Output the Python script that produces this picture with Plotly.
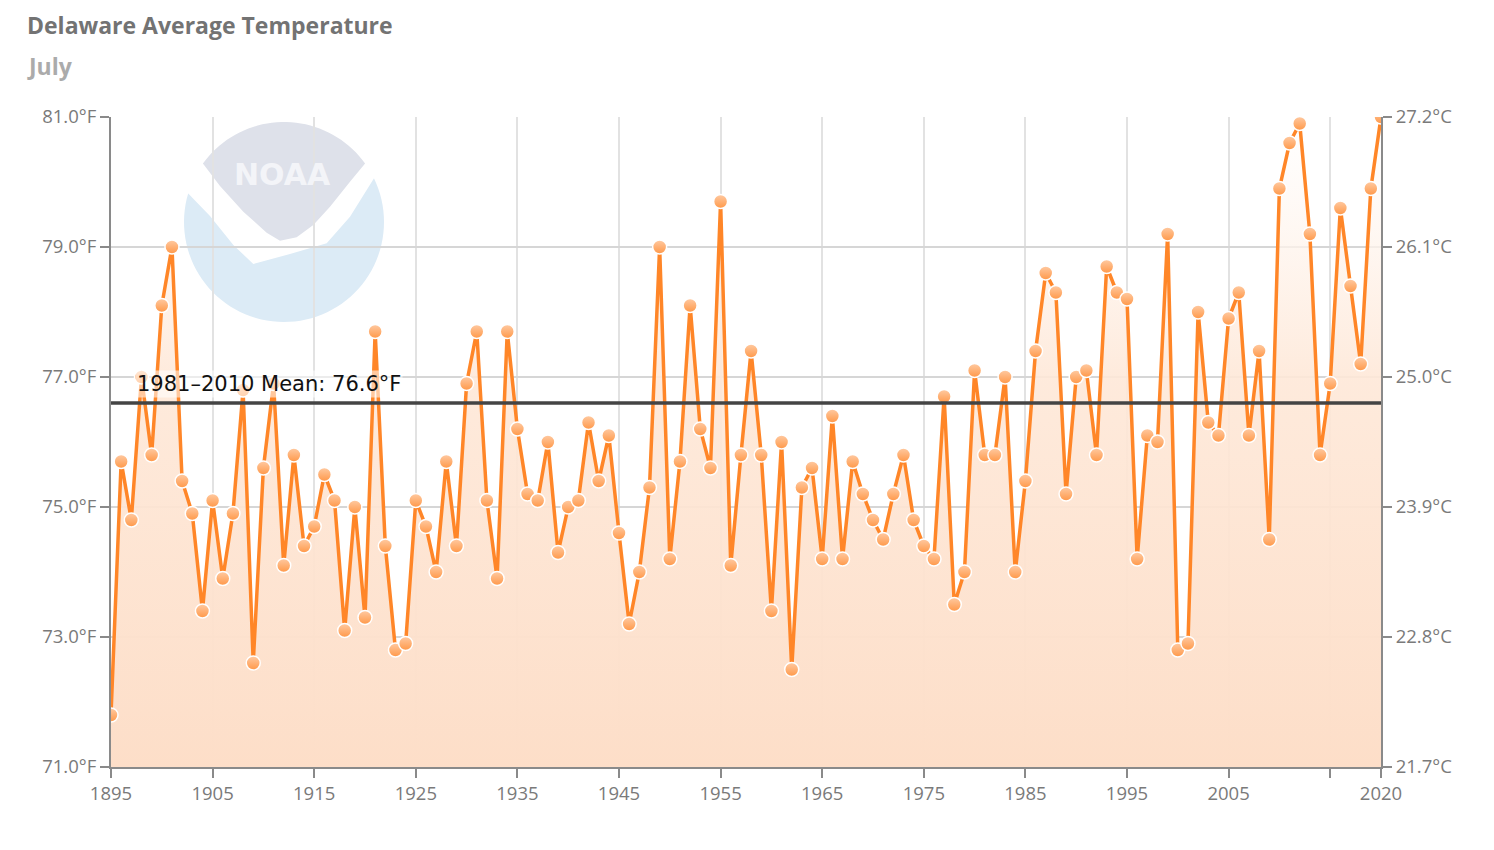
import numpy as np
import plotly.graph_objects as go

# July average temperature, Delaware (deg F), 1895-2020
years = list(range(1895, 2021))
temps_f = [
    71.8, 75.7, 74.8, 77.0, 75.8, 78.1, 79.0, 75.4, 74.9, 73.4,  # 1895-1904
    75.1, 73.9, 74.9, 76.8, 72.6, 75.6, 76.9, 74.1, 75.8, 74.4,  # 1905-1914
    74.7, 75.5, 75.1, 73.1, 75.0, 73.3, 77.7, 74.4, 72.8, 72.9,  # 1915-1924
    75.1, 74.7, 74.0, 75.7, 74.4, 76.9, 77.7, 75.1, 73.9, 77.7,  # 1925-1934
    76.2, 75.2, 75.1, 76.0, 74.3, 75.0, 75.1, 76.3, 75.4, 76.1,  # 1935-1944
    74.6, 73.2, 74.0, 75.3, 79.0, 74.2, 75.7, 78.1, 76.2, 75.6,  # 1945-1954
    79.7, 74.1, 75.8, 77.4, 75.8, 73.4, 76.0, 72.5, 75.3, 75.6,  # 1955-1964
    74.2, 76.4, 74.2, 75.7, 75.2, 74.8, 74.5, 75.2, 75.8, 74.8,  # 1965-1974
    74.4, 74.2, 76.7, 73.5, 74.0, 77.1, 75.8, 75.8, 77.0, 74.0,  # 1975-1984
    75.4, 77.4, 78.6, 78.3, 75.2, 77.0, 77.1, 75.8, 78.7, 78.3,  # 1985-1994
    78.2, 74.2, 76.1, 76.0, 79.2, 72.8, 72.9, 78.0, 76.3, 76.1,  # 1995-2004
    77.9, 78.3, 76.1, 77.4, 74.5, 79.9, 80.6, 80.9, 79.2, 75.8,  # 2005-2014
    76.9, 79.6, 78.4, 77.2, 79.9, 81.0,                          # 2015-2020
]
mean_years = [1895, 2020]
mean_f = 76.6
x_ticks = [1895, 1905, 1915, 1925, 1935, 1945, 1955, 1965, 1975, 1985, 1995, 2005, 2015, 2020]
x_labels = ["1895", "1905", "1915", "1925", "1935", "1945", "1955", "1965",
            "1975", "1985", "1995", "2005", "", "2020"]
y_ticks = [71, 73, 75, 77, 79, 81]

# page has an 8px body margin, so work in screen pixels and shift
OFF = 8
W, H = 1494 - 2 * OFF, 850 - 2 * OFF
L, R, T, B = 111, 1381, 117, 767
FONT = "Open Sans"


def px(xp):
    return (xp - L) / (R - L)


def py(yp):
    return (B - yp) / (B - T)


def path_from(points):
    # screen pixels -> axis units, so the logo sits in the subplot below the grid
    def dx(a):
        return 1895 + px(a) * 125

    def dy(b):
        return 71 + py(b) * 10

    return "M " + " L ".join(f"{dx(a):.4f},{dy(b):.4f}" for a, b in points) + " Z"


# NOAA watermark, approximated with paths (screen pixel coords)
cx, cy, rad = 284, 222, 100


def zpt(zx, zy):
    return (170 + zx / 3, 110 + zy / 3)


def arc(a0, a1, n=40):
    return [(cx + rad * np.cos(a), cy + rad * np.sin(a)) for a in np.linspace(a0, a1, n)]


def angle(p):
    return np.arctan2(p[1] - cy, p[0] - cx)


# blue lower part: below the white bird band
lw, rw = angle(zpt(54, 250)), angle(zpt(612, 205))
band = [zpt(54, 250), zpt(120, 318), zpt(190, 405), zpt(250, 462), zpt(360, 432),
        zpt(470, 400), zpt(540, 320), zpt(612, 205)]
blue_pts = band + arc(rw, lw + 2 * np.pi, 70)

# grey upper part
lg, rg = angle(zpt(98, 160)), angle(zpt(586, 160))
gray_pts = arc(lg, rg) + [zpt(540, 215), zpt(480, 290), zpt(430, 345),
                          zpt(380, 382), zpt(330, 392), zpt(290, 368),
                          zpt(220, 305), zpt(150, 228)]

shapes = [
    dict(type="path", xref="x", yref="y", path=path_from(blue_pts),
         fillcolor="#dcebf6", line=dict(width=0), layer="below"),
    dict(type="path", xref="x", yref="y", path=path_from(gray_pts),
         fillcolor="#dee1ea", line=dict(width=0), layer="below"),
]

fig = go.Figure()

fig.add_trace(go.Scatter(
    x=years, y=temps_f, mode="lines+markers",
    line=dict(color="#ff8628", width=3.5),
    marker=dict(size=14, color="#ffcaa2", line=dict(color="white", width=1.5),
                gradient=dict(type="vertical", color="#ff9848")),
    fill="tozeroy",
    fillgradient=dict(type="vertical", start=71, stop=81,
                      colorscale=[[0, "rgba(253,222,200,1)"], [0.6, "rgba(254,232,216,0.9)"],
                                  [1, "rgba(255,255,255,0.6)"]]),
    hoverinfo="x+y", showlegend=False,
))

fig.add_trace(go.Scatter(
    x=mean_years, y=[mean_f, mean_f], mode="lines", yaxis="y2",
    line=dict(color="#444444", width=3.5), hoverinfo="skip", showlegend=False,
))

c_labels = [f"{(f - 32) * 5 / 9:.1f}°C" for f in y_ticks]
f_labels = [f"{f:.1f}°F" for f in y_ticks]

axis_font = dict(family=FONT, size=18.5, color="#7a7a7a")
axis_common = dict(showline=True, linecolor="#8a8a8a", linewidth=2,
                   ticks="outside", ticklen=9, tickwidth=2, tickcolor="#8a8a8a",
                   tickfont=axis_font, zeroline=False, fixedrange=True)

fig.update_layout(
    width=W, height=H,
    margin=dict(l=L - OFF, r=W + OFF - R, t=T - OFF, b=H + OFF - B),
    paper_bgcolor="white", plot_bgcolor="white",
    font=dict(family=FONT),
    shapes=shapes,
    xaxis=dict(range=[1895, 2020], tickmode="array", tickvals=x_ticks, ticktext=x_labels,
               showgrid=True, gridcolor="#e2e2e2", gridwidth=2, **axis_common),
    yaxis=dict(range=[71, 81], tickmode="array", tickvals=y_ticks, ticktext=f_labels,
               showgrid=True, gridcolor="#d6d6d6", gridwidth=2, **axis_common),
    yaxis2=dict(range=[71, 81], overlaying="y", side="right", tickmode="array",
                tickvals=y_ticks, ticktext=c_labels, showgrid=False, **axis_common),
    annotations=[
        dict(text="Delaware Average Temperature", xref="paper", yref="paper",
             x=px(25), y=py(25), xanchor="left", yanchor="middle", showarrow=False,
             font=dict(family=FONT, size=23, color="#737373", weight="bold")),
        dict(text="July", xref="paper", yref="paper",
             x=px(25), y=py(66), xanchor="left", yanchor="middle", showarrow=False,
             font=dict(family=FONT, size=23, color="#ababab", weight="bold")),
        dict(text="NOAA", xref="paper", yref="paper",
             x=px(282), y=py(174), xanchor="center", yanchor="middle", showarrow=False,
             font=dict(family="DejaVu Sans", size=30, color="#f3f4f8", weight="bold")),
        dict(text="1981–2010 Mean: 76.6°F", x=1897.4, y=mean_f, yref="y2",
             xanchor="left", yanchor="bottom", yshift=5, showarrow=False,
             bgcolor="rgba(255,255,255,0.55)", borderpad=1,
             font=dict(family="DejaVu Sans", size=21, color="#111111")),
    ],
)

fig.write_html("out.html")
